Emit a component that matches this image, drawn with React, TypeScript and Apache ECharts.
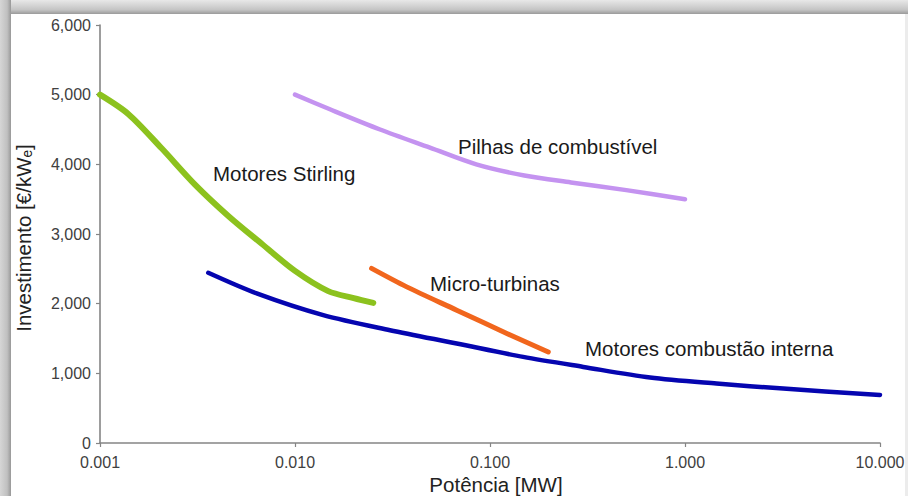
import React, { useEffect, useRef } from "react";
import * as echarts from "echarts";

// Tick values
const xTickValues = [0.001, 0.01, 0.1, 1, 10];
const yTickValues = [0, 1000, 2000, 3000, 4000, 5000, 6000];

// Motores Stirling
const stirlingPower = [0.001, 0.0014, 0.00207, 0.00307, 0.00455, 0.00675, 0.01, 0.0148, 0.02, 0.0252];
const stirlingCost = [5000, 4720, 4230, 3710, 3260, 2860, 2470, 2180, 2080, 2011];

// Pilhas de combustível
const fuelCellPower = [0.01, 0.0151, 0.0273, 0.0492, 0.085, 0.15, 0.26, 0.5, 1.0];
const fuelCellCost = [5000, 4790, 4500, 4240, 4000, 3840, 3740, 3630, 3500];

// Micro-turbinas
const microTurbinePower = [0.0247, 0.0374, 0.0675, 0.122, 0.199];
const microTurbineCost = [2506, 2241, 1907, 1572, 1307];

// Motores combustão interna
const iceEnginePower = [0.00359, 0.00636, 0.01396, 0.0307, 0.0675, 0.148, 0.301, 0.662, 1.45, 3.19, 10];
const iceEngineCost = [2443, 2147, 1835, 1619, 1428, 1236, 1092, 940, 853, 781, 690];

const seriesNames = ["Motores Stirling", "Pilhas de combustível", "Micro-turbinas", "Motores combustão interna"];

export default function App() {
  const ref = useRef<HTMLDivElement>(null);

  useEffect(() => {
    if (!ref.current) return;
    const chart = echarts.init(ref.current, null, { renderer: "svg" });
    const font = "'Liberation Sans', Arial, Helvetica, sans-serif";
    const zip = (xs: number[], ys: number[]) => xs.map((x, i) => [x, ys[i]]);
    const axisGray = "#858585";
    const labelSize = 20.5;

    const lineSeries = (name: string, data: number[][], color: string, width: number) => ({
      name,
      type: "line",
      data,
      smooth: 0.3,
      showSymbol: false,
      symbol: "none",
      lineStyle: { color, width, cap: "round", join: "round" },
      emphasis: { disabled: true },
    });

    const annotation = (text: string, x: number, y: number) => ({
      type: "text",
      x,
      y,
      style: { text, fontSize: labelSize, fontFamily: font, fill: "#1a1a1a", align: "left", verticalAlign: "middle" },
    });

    chart.setOption({
      animation: false,
      backgroundColor: "#ffffff",
      grid: { left: 100, right: 28, top: 25, bottom: 53, containLabel: false },
      xAxis: {
        type: "log",
        logBase: 10,
        min: xTickValues[0],
        max: xTickValues[xTickValues.length - 1],
        axisLine: { show: true, lineStyle: { color: axisGray, width: 1.6 } },
        axisTick: { show: true, length: 4, lineStyle: { color: axisGray, width: 1.2 } },
        minorTick: { show: false },
        splitLine: { show: false },
        axisLabel: {
          color: "#404040",
          fontSize: 16,
          fontFamily: font,
          margin: 11,
          showMinLabel: true,
          showMaxLabel: true,
          formatter: (v: number) => Number(v).toFixed(3),
        },
      },
      yAxis: {
        type: "value",
        min: yTickValues[0],
        max: yTickValues[yTickValues.length - 1],
        interval: 1000,
        axisLine: { show: true, lineStyle: { color: axisGray, width: 1.6 } },
        axisTick: { show: true, length: 4, lineStyle: { color: axisGray, width: 1.2 } },
        splitLine: { show: false },
        axisLabel: {
          color: "#404040",
          fontSize: 16,
          fontFamily: font,
          margin: 9,
          formatter: (v: number) => Number(v).toLocaleString("en-US"),
        },
      },
      series: [
        lineSeries(seriesNames[0], zip(stirlingPower, stirlingCost), "#8cc21e", 6),
        lineSeries(seriesNames[1], zip(fuelCellPower, fuelCellCost), "#c493f0", 4.5),
        lineSeries(seriesNames[2], zip(microTurbinePower, microTurbineCost), "#f1661d", 5),
        lineSeries(seriesNames[3], zip(iceEnginePower, iceEngineCost), "#0505b0", 4.5),
      ],
      graphic: [
        {
          type: "rect",
          left: 0,
          top: 0,
          shape: { width: 908, height: 14 },
          style: {
            fill: new echarts.graphic.LinearGradient(0, 0, 0, 1, [
              { offset: 0, color: "#e8e8e8" },
              { offset: 0.7, color: "#c4c4c4" },
              { offset: 1, color: "#9a9a9a" },
            ]),
          },
          silent: true,
        },
        {
          type: "rect",
          left: 0,
          top: 0,
          shape: { width: 11, height: 496 },
          style: {
            fill: new echarts.graphic.LinearGradient(0, 0, 1, 0, [
              { offset: 0, color: "#d6d6d6" },
              { offset: 0.65, color: "#c0c0c0" },
              { offset: 1, color: "#989898" },
            ]),
          },
          silent: true,
        },
        {
          type: "rect",
          left: 905,
          top: 14,
          shape: { width: 3, height: 482 },
          style: { fill: "#ececec" },
          silent: true,
        },
        {
          type: "text",
          x: 23,
          y: 238,
          rotation: Math.PI / 2,
          style: {
            text: "Investimento [€/kWₑ]",
            fontSize: labelSize,
            fontFamily: font,
            fill: "#222",
            align: "center",
            verticalAlign: "middle",
          },
        },
        {
          type: "text",
          x: 496,
          y: 484,
          style: {
            text: "Potência [MW]",
            fontSize: labelSize,
            fontFamily: font,
            fill: "#222",
            align: "center",
            verticalAlign: "middle",
          },
        },
        annotation(seriesNames[0], 213, 173),
        annotation(seriesNames[1], 458, 146),
        annotation(seriesNames[2], 430, 283),
        annotation(seriesNames[3], 585, 348),
      ],
    });

    return () => chart.dispose();
  }, []);

  return <div ref={ref} style={{ position: "fixed", left: 0, top: 0, width: 908, height: 496 }} />;
}
